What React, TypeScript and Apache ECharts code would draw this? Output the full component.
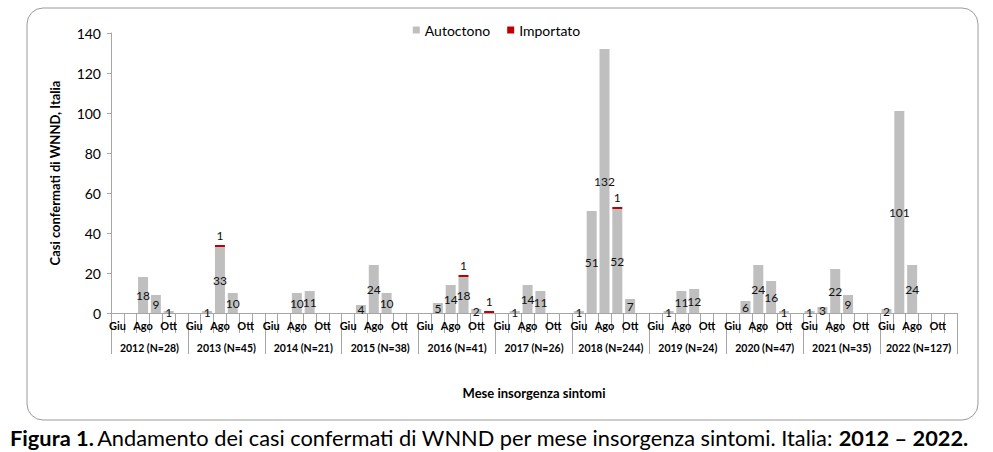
import React, { useEffect, useRef } from "react";
import * as echarts from "echarts";

const months = ["Giu", "Lug", "Ago", "Set", "Ott", "Nov"];
const shownMonths = ["Giu", "Ago", "Ott"];
const years = [
  "2012 (N=28)",
  "2013 (N=45)",
  "2014 (N=21)",
  "2015 (N=38)",
  "2016 (N=41)",
  "2017 (N=26)",
  "2018 (N=244)",
  "2019 (N=24)",
  "2020 (N=47)",
  "2021 (N=35)",
  "2022 (N=127)",
];

const autoctono2012 = [0, 0, 18, 9, 1, 0];
const autoctono2013 = [0, 1, 33, 10, 0, 0];
const autoctono2014 = [0, 0, 10, 11, 0, 0];
const autoctono2015 = [0, 4, 24, 10, 0, 0];
const autoctono2016 = [0, 5, 14, 18, 2, 0];
const autoctono2017 = [0, 1, 14, 11, 0, 0];
const autoctono2018 = [1, 51, 132, 52, 7, 0];
const autoctono2019 = [0, 1, 11, 12, 0, 0];
const autoctono2020 = [0, 6, 24, 16, 1, 0];
const autoctono2021 = [1, 3, 22, 9, 0, 0];
const autoctono2022 = [2, 101, 24, 0, 0, 0];

const importato2012 = [0, 0, 0, 0, 0, 0];
const importato2013 = [0, 0, 1, 0, 0, 0];
const importato2014 = [0, 0, 0, 0, 0, 0];
const importato2015 = [0, 0, 0, 0, 0, 0];
const importato2016 = [0, 0, 0, 1, 0, 1];
const importato2017 = [0, 0, 0, 0, 0, 0];
const importato2018 = [0, 0, 0, 1, 0, 0];
const importato2019 = [0, 0, 0, 0, 0, 0];
const importato2020 = [0, 0, 0, 0, 0, 0];
const importato2021 = [0, 0, 0, 0, 0, 0];
const importato2022 = [0, 0, 0, 0, 0, 0];

const autoctono = [
  autoctono2012, autoctono2013, autoctono2014, autoctono2015, autoctono2016, autoctono2017,
  autoctono2018, autoctono2019, autoctono2020, autoctono2021, autoctono2022,
].flat();
const importato = [
  importato2012, importato2013, importato2014, importato2015, importato2016, importato2017,
  importato2018, importato2019, importato2020, importato2021, importato2022,
].flat();

const monthCategories = years.flatMap(() => months);

const FONT = "Lato";

export default function App() {
  const ref = useRef<HTMLDivElement>(null);
  useEffect(() => {
    if (!ref.current) return;
    const chart = echarts.init(ref.current, undefined, { renderer: "svg" });
    const axisColor = "#a6a6a6";
    chart.setOption({
      animation: false,
      backgroundColor: "#ffffff",
      textStyle: { fontFamily: FONT },
      legend: {
        top: 18,
        left: "center",
        icon: "rect",
        itemWidth: 7,
        itemHeight: 7,
        itemGap: 17,
        textStyle: { fontSize: 14, color: "#000", fontFamily: FONT },
        data: ["Autoctono", "Importato"],
      },
      grid: { left: 111, right: 36, top: 33, bottom: 139, containLabel: false },
      xAxis: [
        {
          type: "category",
          data: monthCategories,
          position: "bottom",
          axisLine: { show: true, lineStyle: { color: axisColor, width: 1 } },
          axisTick: { show: true, interval: 0, length: 20, lineStyle: { color: axisColor } },
          axisLabel: {
            interval: 0,
            margin: 7,
            fontSize: 11,
            fontWeight: "bold",
            color: "#000",
            fontFamily: FONT,
            formatter: (v: string) => (shownMonths.includes(v) ? v : ""),
          },
        },
        {
          type: "category",
          data: years,
          position: "bottom",
          axisLine: { show: false },
          axisTick: { show: true, interval: 0, length: 41, lineStyle: { color: axisColor } },
          axisLabel: {
            interval: 0,
            margin: 29,
            fontSize: 10.5,
            fontWeight: "bold",
            color: "#000",
            fontFamily: FONT,
          },
          name: "Mese insorgenza sintomi",
          nameLocation: "middle",
          nameGap: 73,
          nameTextStyle: { fontSize: 13, fontWeight: "bold", color: "#000", fontFamily: FONT },
        },
      ],
      yAxis: {
        type: "value",
        min: 0,
        max: 140,
        interval: 20,
        axisLine: { show: true, lineStyle: { color: axisColor } },
        axisTick: { show: true, length: 4, lineStyle: { color: axisColor } },
        splitLine: { show: false },
        axisLabel: { fontSize: 14, color: "#000", margin: 10, fontFamily: FONT },
        name: "Casi confermati di WNND, Italia",
        nameLocation: "middle",
        nameGap: 50,
        nameTextStyle: { fontSize: 13, fontWeight: "bold", color: "#000", fontFamily: FONT },
      },
      series: [
        {
          name: "Autoctono",
          type: "bar",
          stack: "tot",
          xAxisIndex: 0,
          data: autoctono,
          barCategoryGap: "22%",
          itemStyle: { color: "#bfbfbf" },
          label: {
            show: true,
            position: "inside",
            fontSize: 12,
            color: "#111",
            fontFamily: FONT,
            formatter: (p: any) => (p.value ? String(p.value) : ""),
          },
        },
        {
          name: "Importato",
          type: "bar",
          stack: "tot",
          xAxisIndex: 0,
          data: importato,
          barCategoryGap: "22%",
          itemStyle: { color: "#c00000" },
          label: {
            show: true,
            position: "top",
            distance: 4,
            fontSize: 12,
            color: "#111",
            fontFamily: FONT,
            formatter: (p: any) => (p.value ? String(p.value) : ""),
          },
        },
      ],
      graphic: [
        {
          type: "rect",
          shape: { x: 27, y: 8, width: 951, height: 412, r: 16 },
          style: { fill: "none", stroke: "#9a9a9a", lineWidth: 1 },
          silent: true,
        },
        {
          type: "text",
          x: 10,
          y: 437,
          style: {
            text: "{b|Figura 1.} {n|Andamento dei casi confermati di WNND per mese insorgenza sintomi. Italia: }{b|2012 – 2022.}",
            verticalAlign: "middle",
            rich: {
              b: { fontSize: 21.8, fontWeight: "bold", fill: "#000", fontFamily: FONT },
              n: { fontSize: 21.8, fill: "#000", fontFamily: FONT },
            },
          },
        },
      ],
    });
    return () => chart.dispose();
  }, []);
  return (
    <div
      ref={ref}
      style={{ position: "absolute", left: 0, top: 0, width: 993, height: 452 }}
    />
  );
}
